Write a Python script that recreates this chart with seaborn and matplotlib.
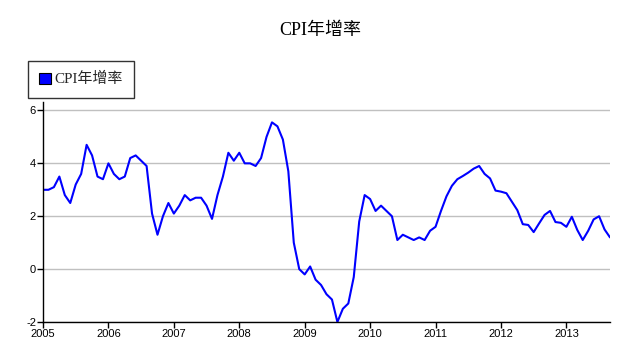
import numpy as np
import pandas as pd
import matplotlib
matplotlib.use("Agg")
import matplotlib.pyplot as plt
from matplotlib.patches import Patch
import seaborn as sns

title = "CPI年增率"
series_name = "CPI年增率"
start_year = 2005
x_ticks = [2005, 2006, 2007, 2008, 2009, 2010, 2011, 2012, 2013]
y_ticks = [-2, 0, 2, 4, 6]

# monthly values, Jan 2005 - Sep 2013
cpi_2005 = [3.0, 3.0, 3.1, 3.5, 2.8, 2.5, 3.2, 3.6, 4.7, 4.3, 3.5, 3.4]
cpi_2006 = [4.0, 3.6, 3.4, 3.5, 4.2, 4.3, 4.1, 3.9, 2.1, 1.3, 2.0, 2.5]
cpi_2007 = [2.1, 2.4, 2.8, 2.6, 2.7, 2.7, 2.4, 1.9, 2.8, 3.5, 4.4, 4.1]
cpi_2008 = [4.4, 4.0, 4.0, 3.9, 4.2, 5.0, 5.55, 5.4, 4.9, 3.7, 1.0, 0.0]
cpi_2009 = [-0.2, 0.1, -0.4, -0.6, -0.95, -1.15, -2.0, -1.5, -1.3, -0.3, 1.8, 2.8]
cpi_2010 = [2.65, 2.2, 2.4, 2.2, 2.0, 1.1, 1.3, 1.2, 1.1, 1.2, 1.1, 1.45]
cpi_2011 = [1.6, 2.2, 2.75, 3.15, 3.4, 3.52, 3.65, 3.8, 3.9, 3.6, 3.43, 2.97]
cpi_2012 = [2.93, 2.87, 2.55, 2.23, 1.7, 1.67, 1.4, 1.73, 2.05, 2.2, 1.78, 1.75]
cpi_2013 = [1.6, 1.98, 1.48, 1.1, 1.45, 1.88, 2.0, 1.5, 1.2]

values = cpi_2005 + cpi_2006 + cpi_2007 + cpi_2008 + cpi_2009 + cpi_2010 + cpi_2011 + cpi_2012 + cpi_2013
months = np.arange(len(values))
df = pd.DataFrame({"t": start_year + months / 12.0, "v": values})

sns.set_theme(style="white")
plt.rcParams['font.family'] = ['Liberation Sans', 'Noto Sans CJK TC']

fig = plt.figure(figsize=(6.27, 3.43), dpi=100)
ax = fig.add_axes([43 / 627, 1 - 322 / 343, (610 - 43) / 627, (322 - 102) / 343])

sns.lineplot(data=df, x="t", y="v", ax=ax, color="#0000ff", linewidth=1.5, label=series_name)

ax.set_xlim(df["t"].iloc[0], df["t"].iloc[-1])
ax.set_ylim(-2, 6.32)
ax.set_xticks(x_ticks)
ax.set_xticklabels([str(y) for y in x_ticks])
ax.set_yticks(y_ticks)
ax.set_yticklabels([str(y) for y in y_ticks])
ax.set_xlabel("")
ax.set_ylabel("")
ax.yaxis.grid(True, color="#c0c0c0", linewidth=1.0)
ax.xaxis.grid(False)
for s in ["top", "right"]:
    ax.spines[s].set_visible(False)
for s in ["left", "bottom"]:
    ax.spines[s].set_color("black")
    ax.spines[s].set_linewidth(1.0)
ax.tick_params(axis="both", which="major", direction="out", length=4, width=1,
               color="black", labelsize=8, labelcolor="black", pad=1, bottom=True, left=True)

ax.get_legend().remove()
handle = Patch(facecolor="#0000ff", edgecolor="black", linewidth=0.8)
leg = fig.legend(handles=[handle], labels=[series_name], loc="upper left",
                 bbox_to_anchor=(28 / 627, 1 - 61 / 343),
                 prop={"family": ["Liberation Serif", "Noto Sans CJK TC"], "size": 10.8},
                 frameon=True, fancybox=False, handlelength=0.75, handleheight=0.75,
                 handletextpad=0.25, borderpad=0.75, borderaxespad=0)
leg.get_frame().set_edgecolor("black")
leg.get_frame().set_linewidth(1.0)

fig.text(320 / 627, 1 - 31 / 343, title, ha="center", va="center",
         fontsize=13, family=["Liberation Serif", "Noto Sans CJK TC"], color="black")

fig.savefig("out.png", dpi=100, facecolor="white")
